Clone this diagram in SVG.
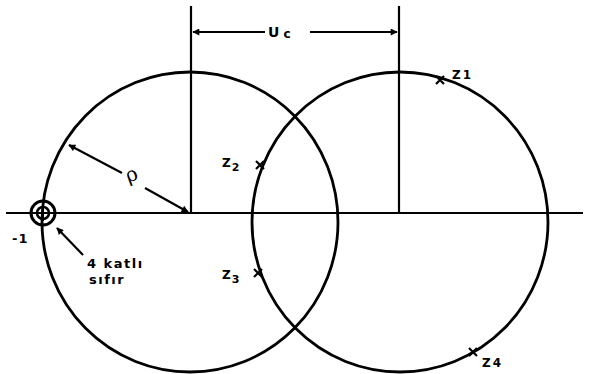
<svg xmlns="http://www.w3.org/2000/svg" width="589" height="374" viewBox="0 0 589 374">
<style>
.ln{stroke:#000;stroke-width:2.2;fill:none}
.circ{stroke:#000;stroke-width:2.8;fill:none}
.t{font-family:"DejaVu Sans","Liberation Sans",sans-serif;font-weight:bold;fill:#000}
.x{stroke:#000;stroke-width:2.2;fill:none}
</style>
<defs>
<marker id="ah" viewBox="0 0 10 10" refX="9" refY="5" markerWidth="9" markerHeight="7" markerUnits="userSpaceOnUse" orient="auto">
<path d="M0,0 L10,5 L0,10 z" fill="#000"/>
</marker>
</defs>
<rect width="589" height="374" fill="#fff"/>
<g id="axis">
<line class="ln" x1="6" y1="213" x2="583" y2="213"/>
</g>
<g id="circle-left">
<ellipse class="circ" cx="190" cy="222" rx="148" ry="150"/>
</g>
<g id="circle-right">
<ellipse class="circ" cx="400" cy="222" rx="148" ry="150"/>
</g>
<g id="zero">
<circle cx="43" cy="213" r="12" stroke="#000" stroke-width="3" fill="none"/>
<circle cx="43" cy="213" r="6" stroke="#000" stroke-width="2.5" fill="none"/>
<line x1="43" y1="205" x2="43" y2="221" stroke="#000" stroke-width="2"/>
<text class="t" x="12" y="243" font-size="13" letter-spacing="1">-1</text>
<text class="t" x="87" y="268" font-size="13" letter-spacing="1.5">4 katlı</text>
<text class="t" x="89" y="284" font-size="13" letter-spacing="1.5">sıfır</text>
</g>
<g id="connectors">
<line class="ln" x1="191" y1="6" x2="191" y2="213"/>
<line class="ln" x1="399" y1="6" x2="399" y2="213"/>
<line class="ln" x1="265" y1="32" x2="193" y2="32" marker-end="url(#ah)"/>
<line class="ln" x1="310" y1="32" x2="397" y2="32" marker-end="url(#ah)"/>
<line class="ln" x1="122" y1="173" x2="69" y2="145" marker-end="url(#ah)"/>
<line class="ln" x1="145" y1="188" x2="188" y2="212" marker-end="url(#ah)"/>
<line class="ln" x1="83" y1="255" x2="57" y2="228" marker-end="url(#ah)"/>
</g>
<g id="labels">
<text class="t" x="268" y="37" font-size="14" letter-spacing="4">U<tspan font-size="12" dy="1">c</tspan></text>
<text x="132" y="181" font-size="20" font-family="DejaVu Serif,serif" text-anchor="middle" transform="rotate(-20 132 176)">ρ</text>
</g>
<g id="z1">
<path class="x" d="M436,76 L444,84 M444,76 L436,84"/>
<text class="t" x="452" y="79" font-size="12" letter-spacing="2">Z1</text>
</g>
<g id="z2">
<path class="x" d="M256,161 L264,169 M264,161 L256,169"/>
<text class="t" x="222" y="167" font-size="12" letter-spacing="1">Z<tspan font-size="11" dy="4">2</tspan></text>
</g>
<g id="z3">
<path class="x" d="M254,269 L262,277 M262,269 L254,277"/>
<text class="t" x="222" y="279" font-size="12" letter-spacing="1">Z<tspan font-size="11" dy="4">3</tspan></text>
</g>
<g id="z4">
<path class="x" d="M469,348 L477,356 M477,348 L469,356"/>
<text class="t" x="482" y="367" font-size="12" letter-spacing="2">Z4</text>
</g>
</svg>
